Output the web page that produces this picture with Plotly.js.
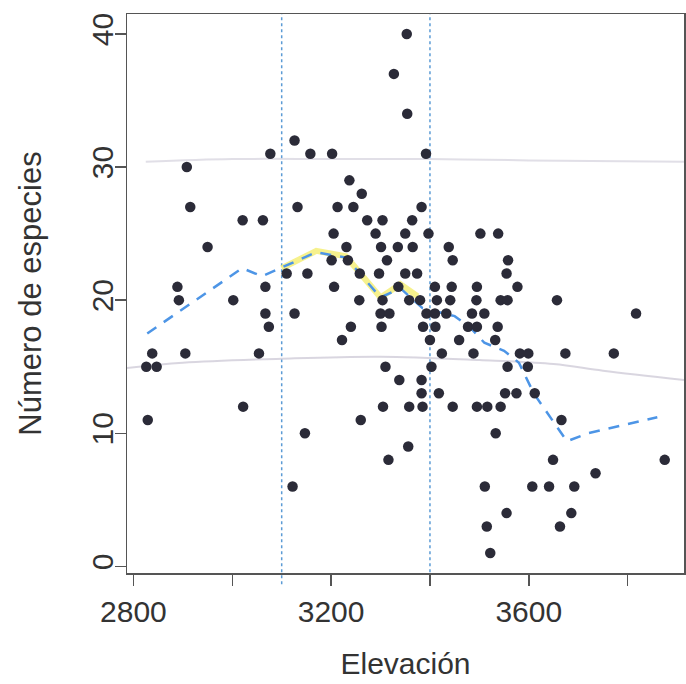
<!DOCTYPE html>
<html>
<head>
<meta charset="utf-8">
<script src="https://cdn.plot.ly/plotly-3.0.1.min.js"></script>
<style>html,body{margin:0;padding:0;background:#fff;}#chart{width:686px;height:684px;}</style>
</head>
<body>
<div id="chart"></div>
<script>
// Elevation (m) of each sampling site
const elevation = [
  3353, 3327, 3354, 3126, 3077, 3158, 3202, 3392, 2908, 3237,
  3262, 2915, 3132, 3213, 3245, 3383, 3021, 3062, 3273, 3304,
  3364, 3205, 3290, 3350, 3397, 3502, 3538, 2950, 3231, 3301,
  3335, 3365, 3438, 3201, 3234, 3313, 3446, 3558, 3110, 3152,
  3258, 3297, 3350, 3374, 3555, 2889, 3067, 3206, 3336, 3410,
  3444, 3495, 3577, 2892, 3002, 3257, 3304, 3358, 3380, 3414,
  3441, 3494, 3543, 3557, 3657, 3067, 3126, 3300, 3318, 3393,
  3410, 3433, 3485, 3510, 3817, 3074, 3240, 3302, 3386, 3411,
  3477, 3495, 3537, 3222, 3400, 3459, 3532, 2838, 2905, 3054,
  3424, 3488, 3582, 3599, 3674, 3772, 2826, 2847, 3310, 3403,
  3557, 3598, 3338, 3383, 3383, 3418, 3552, 3575, 3612, 3022,
  3305, 3358, 3385, 3446, 3495, 3516, 3543, 2829, 3260, 3666,
  3147, 3533, 3356, 3316, 3649, 3875, 3735, 3122, 3511, 3607,
  3641, 3692, 3555, 3686, 3515, 3663, 3522
];
// Number of species at each site
const species = [
  40, 37, 34, 32, 31, 31, 31, 31, 30, 29,
  28, 27, 27, 27, 27, 27, 26, 26, 26, 26,
  26, 25, 25, 25, 25, 25, 25, 24, 24, 24,
  24, 24, 24, 23, 23, 23, 23, 23, 22, 22,
  22, 22, 22, 22, 22, 21, 21, 21, 21, 21,
  21, 21, 21, 20, 20, 20, 20, 20, 20, 20,
  20, 20, 20, 20, 20, 19, 19, 19, 19, 19,
  19, 19, 19, 19, 19, 18, 18, 18, 18, 18,
  18, 18, 18, 17, 17, 17, 17, 16, 16, 16,
  16, 16, 16, 16, 16, 16, 15, 15, 15, 15,
  15, 15, 14, 14, 13, 13, 13, 13, 13, 12,
  12, 12, 12, 12, 12, 12, 12, 11, 11, 11,
  10, 10, 9, 8, 8, 8, 7, 6, 6, 6,
  6, 6, 4, 4, 3, 3, 1
];
// Smoothed mean (dashed blue line)
const smoothX = [2828, 3020, 3060, 3110, 3170, 3230, 3270, 3300, 3340, 3385, 3450, 3480, 3510, 3550, 3580, 3610, 3677, 3720, 3860];
const smoothY = [17.5, 22.4, 21.8, 22.6, 23.6, 23.2, 21.5, 20.2, 20.9, 19.4, 18.8, 18.0, 16.8, 16.2, 15.3, 13.0, 9.4, 10.0, 11.2];
// Highlighted (yellow) stretch of the smoothed curve
const highlightX = [3100, 3170, 3230, 3270, 3300, 3340, 3375];
const highlightY = [22.4, 23.7, 23.3, 21.5, 20.2, 21.2, 20.3];
// Faint gray scan marks crossing the page
const markAX = [2825, 3000, 3200, 3400, 3600, 3914];
const markAY = [30.4, 30.6, 30.6, 30.6, 30.5, 30.4];
const markBX = [2787, 2900, 3100, 3300, 3500, 3650, 3750, 3914];
const markBY = [14.9, 15.3, 15.6, 15.75, 15.5, 15.2, 14.7, 14.0];
// Vertical reference elevations (dotted)
const refElev = [3100, 3400];
// Axis ticks
const xTickVals = [2800, 3000, 3200, 3400, 3600, 3800];
const xTickText = ['2800', '', '3200', '', '3600', ''];
const yTickVals = [0, 10, 20, 30, 40];

const FONT = 'Liberation Sans, Arial, Helvetica, sans-serif';

const traces = [
  {x: markAX, y: markAY, mode: 'lines', line: {color: '#c4c0d0', width: 2, shape: 'spline'}, opacity: 0.5, hoverinfo: 'skip'},
  {x: markBX, y: markBY, mode: 'lines', line: {color: '#c4c0d0', width: 2, shape: 'spline'}, opacity: 0.65, hoverinfo: 'skip'},
  {x: highlightX, y: highlightY, mode: 'lines', line: {color: '#f4ee70', width: 6}, opacity: 0.8, hoverinfo: 'skip'},
  {x: smoothX, y: smoothY, mode: 'lines', line: {color: '#4d95e6', width: 2.5, dash: '11px,9px'}},
  {x: elevation, y: species, mode: 'markers', marker: {color: '#2b2b38', size: 10.5}}
];

const layout = {
  width: 686, height: 684,
  margin: {l: 127, r: 2, t: 14, b: 111},
  paper_bgcolor: '#ffffff', plot_bgcolor: '#ffffff',
  showlegend: false,
  font: {family: FONT, color: '#333333', size: 30},
  xaxis: {
    range: [2787, 3914],
    showgrid: false, zeroline: false,
    showline: true, mirror: true, linecolor: '#555555', linewidth: 1.5,
    ticks: 'outside', ticklen: 11, tickwidth: 1.5, tickcolor: '#555555',
    tickvals: xTickVals, ticktext: xTickText,
    tickfont: {size: 30, color: '#333333'},
    title: {text: 'Elevación', font: {size: 30, color: '#333333'}, standoff: 26},
    automargin: false
  },
  yaxis: {
    range: [-0.5, 41.5],
    showgrid: false, zeroline: false,
    showline: true, mirror: true, linecolor: '#555555', linewidth: 1.5,
    ticks: 'outside', ticklen: 11, tickwidth: 1.5, tickcolor: '#555555',
    tickvals: yTickVals, tickangle: -90, ticklabelstandoff: -10,
    tickfont: {size: 30, color: '#333333'},
    title: {text: 'Número de especies', font: {size: 31, color: '#333333'}, standoff: 34},
    automargin: false
  },
  shapes: refElev.map(v => ({
    type: 'line', xref: 'x', yref: 'paper', x0: v, x1: v, y0: -0.02, y1: 1,
    line: {color: '#5b9bd5', width: 1.5, dash: 'dot'}, layer: 'below'
  }))
};

Plotly.newPlot('chart', traces, layout, {staticPlot: true, displayModeBar: false});
</script>
</body>
</html>
